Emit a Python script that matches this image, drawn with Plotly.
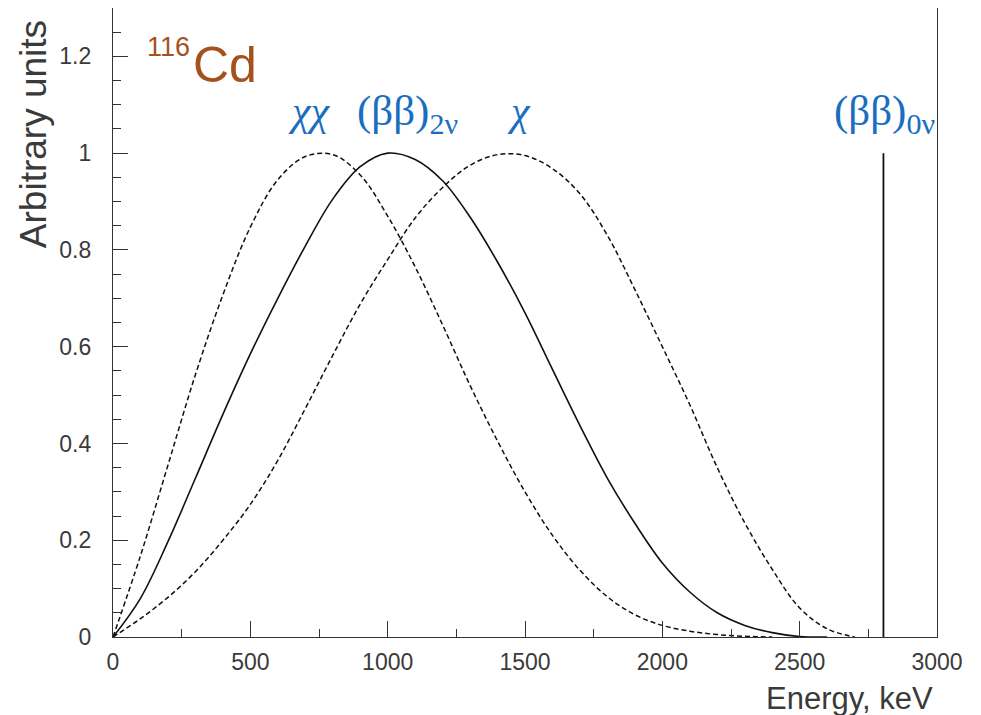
import plotly.graph_objects as go

# Energy grid (keV)
energy = [0, 100, 200, 300, 400, 500, 600, 700, 800, 900, 1000, 1100, 1200, 1300, 1400,
          1500, 1600, 1700, 1800, 1900, 2000, 2100, 2200, 2300, 2400, 2500, 2600, 2700]

# (beta beta)_2nu spectrum (solid)
bb2nu_e = energy[:27]
bb2nu = [0, 0.08, 0.197, 0.328, 0.46, 0.585, 0.70, 0.808, 0.905, 0.972, 1.0, 0.987, 0.943, 0.868,
         0.775, 0.67, 0.553, 0.437, 0.328, 0.235, 0.153, 0.093, 0.05, 0.024, 0.009, 0.001, 0.0]

# chi-chi (two majorons) spectrum (dashed)
chichi_e = energy[:25]
chichi = [0, 0.168, 0.355, 0.542, 0.707, 0.847, 0.945, 0.993, 0.997, 0.955, 0.87, 0.765,
          0.645, 0.52, 0.405, 0.30, 0.21, 0.138, 0.083, 0.046, 0.024, 0.012, 0.005, 0.0015, 0.0]

# chi (single majoron) spectrum (dashed)
chi = [0, 0.038, 0.082, 0.135, 0.2, 0.274, 0.365, 0.472, 0.582, 0.688, 0.78, 0.866, 0.929,
       0.975, 0.997, 0.995, 0.968, 0.916, 0.83, 0.718, 0.60, 0.48, 0.35, 0.236, 0.14, 0.06,
       0.017, 0.0]

# (beta beta)_0nu line
line0nu_x = [2805, 2805]
line0nu_y = [0, 1]

x_ticks = [0, 500, 1000, 1500, 2000, 2500, 3000]
y_ticks = [0, 0.2, 0.4, 0.6, 0.8, 1.0, 1.2]
y_ticktext = ["0", "0.2", "0.4", "0.6", "0.8", "1", "1.2"]

ink = "#111111"
fig = go.Figure()
fig.add_trace(go.Scatter(x=chichi_e, y=chichi, mode="lines",
                         line=dict(color=ink, width=1.5, dash="5px,3px", shape="spline", smoothing=1.0),
                         showlegend=False))
fig.add_trace(go.Scatter(x=bb2nu_e, y=bb2nu, mode="lines",
                         line=dict(color=ink, width=1.6, shape="spline", smoothing=1.0),
                         showlegend=False))
fig.add_trace(go.Scatter(x=energy, y=chi, mode="lines",
                         line=dict(color=ink, width=1.5, dash="5px,3px", shape="spline", smoothing=1.0),
                         showlegend=False))
fig.add_trace(go.Scatter(x=line0nu_x, y=line0nu_y, mode="lines",
                         line=dict(color=ink, width=1.8), showlegend=False))

tickfont = dict(family="Liberation Sans", size=23, color="#3a3a3a")
axcol = "#333333"
fig.update_xaxes(range=[0, 3000], tickvals=x_ticks, ticks="inside", ticklen=16, tickwidth=1.3,
                 tickcolor=axcol, showline=True, linecolor=axcol, linewidth=1.3,
                 mirror=True, showgrid=False, zeroline=False, tickfont=tickfont, ticklabelstandoff=4,
                 minor=dict(dtick=250, ticks="inside", ticklen=8, tickcolor=axcol, tickwidth=1.3))
fig.update_yaxes(range=[0, 1.3], tickvals=y_ticks, ticktext=y_ticktext,
                 ticks="inside", ticklen=15, tickwidth=1.3,
                 tickcolor=axcol, showline=True, linecolor=axcol, linewidth=1.3,
                 mirror=True, showgrid=False, zeroline=False, tickfont=tickfont, ticklabelstandoff=16,
                 minor=dict(dtick=0.05, ticks="inside", ticklen=8, tickcolor=axcol, tickwidth=1.3))

blue = "#1a6ec0"
brown = "#a5511e"
serif = "Liberation Serif, Times New Roman, serif"
sans = "Liberation Sans, Arial, sans-serif"
ann = [
    dict(x=116, y=1.219, xref="x", yref="y", text="116", showarrow=False, xanchor="left", yanchor="middle",
         font=dict(family=sans, size=27, color=brown)),
    dict(x=283, y=1.183, xref="x", yref="y", text="Cd", showarrow=False, xanchor="left", yanchor="middle",
         font=dict(family=sans, size=50, color=brown)),
    dict(x=712, y=1.088, xref="x", yref="y", text="<i>χχ</i>", showarrow=False, xanchor="center",
         yanchor="middle", font=dict(family=serif, size=42, color=blue)),
    dict(x=881, y=1.08, xref="x", yref="y", text="(ββ)<sub>2ν</sub>", showarrow=False, xanchor="left",
         yanchor="middle", font=dict(family=serif, size=43, color=blue)),
    dict(x=1478, y=1.088, xref="x", yref="y", text="<i>χ</i>", showarrow=False, xanchor="center",
         yanchor="middle", font=dict(family=serif, size=42, color=blue)),
    dict(x=2617, y=1.08, xref="x", yref="y", text="(ββ)<sub>0ν</sub>", showarrow=False, xanchor="left",
         yanchor="middle", font=dict(family=serif, size=43, color=blue)),
    dict(x=0.9976, y=-0.066, xref="paper", yref="paper", text="Energy, keV", showarrow=False, xanchor="right",
         yanchor="top", font=dict(family=sans, size=31, color="#3a3a3a")),
    dict(x=-0.097, y=0.984, xref="paper", yref="paper", text="Arbitrary units", showarrow=False,
         xanchor="center", yanchor="top", textangle=-90,
         font=dict(family=sans, size=37, color="#3a3a3a")),
]
# The page adds an 8px body margin, so the figure is sized and offset to fit the 981x715 window.
fig.update_layout(width=973, height=707, margin=dict(l=105, r=44, t=0, b=78),
                  paper_bgcolor="white", plot_bgcolor="white", annotations=ann)
fig.write_html("out.html")
